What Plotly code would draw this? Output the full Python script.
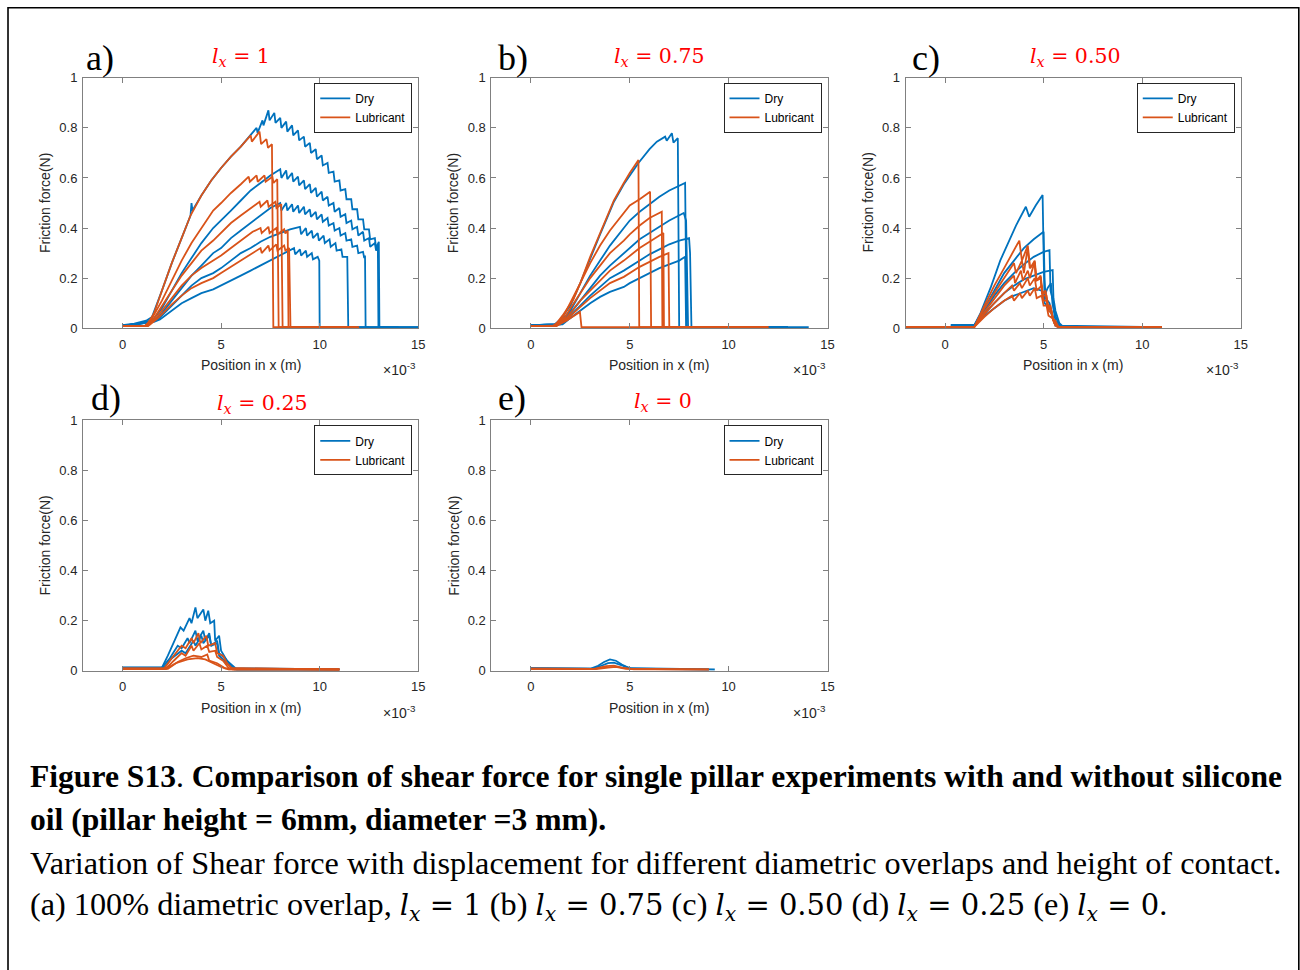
import plotly.graph_objects as go

W, H = 1300, 970
# The photographed page comes out slightly scaled/shifted; target positions
# (in picture pixels) are mapped back to page pixels.
SX, SY, OY = 0.994, 0.983, 7.3
BLUE = "#0072BD"
ORANGE = "#D95319"

# ---------------- data (x in mm i.e. x10^-3 m, friction force in N) ----------------
x_ticks = [0, 5, 10, 15]
x_tick_labels = ["0", "5", "10", "15"]
y_ticks = [0, 0.2, 0.4, 0.6, 0.8, 1]
y_tick_labels = ["0", "0.2", "0.4", "0.6", "0.8", "1"]
panel_letters = ["a)", "b)", "c)", "d)", "e)"]
panel_lx = ["1", "0.75", "0.50", "0.25", "0"]

# ---- panel a : lx = 1 ----
a_dry1 = [(0,0.012),(0.6,0.018),(1.2,0.03),(1.5,0.045),(2.0,0.15),(2.5,0.26),(3.0,0.36),(3.45,0.45),(3.5,0.50),(3.55,0.47),
          (4.0,0.53),(4.5,0.59),(5.0,0.64),(5.5,0.685),(6.0,0.725),(6.5,0.77),(6.8,0.80),(6.85,0.78),(7.1,0.83),(7.15,0.81),
          (7.40,0.87),(7.46,0.83),(7.70,0.86),(7.76,0.82),(8.00,0.84),(8.06,0.80),(8.30,0.825),(8.36,0.785),(8.60,0.81),(8.66,0.77),
          (8.90,0.79),(8.96,0.75),(9.20,0.765),(9.26,0.725),(9.50,0.74),(9.56,0.70),(9.80,0.715),(9.86,0.675),(10.10,0.69),(10.16,0.65),
          (10.40,0.66),(10.46,0.62),(10.70,0.625),(10.76,0.585),(11.00,0.59),(11.06,0.55),(11.30,0.555),(11.36,0.515),(11.60,0.515),(11.66,0.475),
          (11.90,0.475),(11.96,0.435),(12.20,0.435),(12.26,0.395),(12.50,0.395),(12.56,0.355),(12.80,0.36),(12.86,0.32),(13.00,0.345),(13.03,0.004),(15.0,0.004)]
a_dry2 = [(0,0.01),(0.7,0.016),(1.3,0.028),(1.6,0.04),(2.0,0.08),(2.5,0.15),(3.0,0.22),(3.5,0.28),(4.0,0.34),(4.6,0.40),(5.0,0.43),
          (5.5,0.47),(6.0,0.51),(6.5,0.55),(7.0,0.58),(7.5,0.61),
          (8.0,0.635),(8.06,0.60),(8.3,0.63),(8.36,0.595),(8.6,0.62),(8.66,0.585),(8.9,0.605),(8.96,0.57),(9.2,0.59),(9.26,0.555),
          (9.5,0.575),(9.56,0.54),(9.8,0.56),(9.86,0.525),(10.1,0.545),(10.16,0.51),(10.4,0.525),(10.46,0.49),(10.7,0.50),(10.76,0.465),
          (11.0,0.48),(11.06,0.445),(11.3,0.455),(11.36,0.42),(11.6,0.43),(11.66,0.395),(11.9,0.405),(11.96,0.37),(12.2,0.385),(12.26,0.35),
          (12.5,0.36),(12.56,0.325),(12.8,0.34),(12.86,0.31),(12.95,0.33),(12.98,0.004),(15.0,0.004)]
a_dry3 = [(0,0.01),(0.8,0.015),(1.4,0.025),(1.7,0.035),(2.0,0.06),(2.5,0.11),(3.0,0.16),(3.5,0.21),(4.0,0.25),(4.6,0.30),(5.0,0.32),
          (5.5,0.36),(6.0,0.39),(6.5,0.42),(7.0,0.45),(7.5,0.48),
          (8.0,0.50),(8.06,0.47),(8.3,0.50),(8.36,0.47),(8.6,0.495),(8.66,0.465),(8.9,0.49),(8.96,0.46),(9.2,0.485),(9.26,0.455),
          (9.5,0.475),(9.56,0.445),(9.8,0.465),(9.86,0.435),(10.1,0.455),(10.16,0.425),(10.4,0.44),(10.46,0.41),(10.7,0.42),(10.76,0.39),
          (11.0,0.40),(11.06,0.37),(11.3,0.38),(11.36,0.35),(11.6,0.355),(11.66,0.325),(11.9,0.33),(11.96,0.30),(12.2,0.305),(12.26,0.28),
          (12.3,0.29),(12.33,0.004),(14.0,0.004)]
a_dry4 = [(0,0.01),(1.5,0.025),(1.8,0.035),(2.0,0.05),(2.5,0.09),(3.0,0.13),(3.5,0.17),(4.0,0.20),(4.6,0.22),(5.0,0.24),(5.5,0.27),
          (6.0,0.30),(6.5,0.32),(7.0,0.345),(7.5,0.365),(8.0,0.38),(8.5,0.395),
          (9.0,0.405),(9.06,0.375),(9.3,0.40),(9.36,0.37),(9.6,0.39),(9.66,0.36),(9.9,0.38),(9.96,0.35),(10.2,0.37),(10.26,0.34),
          (10.5,0.355),(10.56,0.325),(10.8,0.34),(10.86,0.31),(11.1,0.315),(11.16,0.285),(11.4,0.285),(11.45,0.004),(13.5,0.004)]
a_dry5 = [(0,0.01),(1.6,0.025),(1.9,0.035),(2.5,0.07),(3.0,0.10),(3.5,0.12),(4.0,0.14),(4.6,0.155),(5.0,0.17),(5.5,0.19),(6.0,0.21),
          (6.5,0.23),(7.0,0.25),(7.5,0.27),(8.0,0.29),(8.4,0.305),
          (8.7,0.32),(8.76,0.295),(9.0,0.315),(9.06,0.29),(9.3,0.31),(9.36,0.285),(9.6,0.30),(9.66,0.275),(9.9,0.285),(9.98,0.27),
          (10.0,0.004),(12.5,0.004)]
a_lub1 = [(0,0.008),(1.1,0.008),(1.3,0.02),(1.6,0.06),(2.0,0.15),(2.5,0.26),(3.0,0.36),(3.45,0.45),(4.0,0.53),(4.5,0.59),(5.0,0.64),
          (5.5,0.685),(6.0,0.725),(6.5,0.77),(6.56,0.745),(6.95,0.785),(7.03,0.735),(7.3,0.755),(7.38,0.72),(7.58,0.735),(7.65,0.004),(11.9,0.004)]
a_lub2 = [(0,0.008),(1.15,0.008),(1.5,0.04),(2.0,0.11),(2.5,0.19),(3.0,0.27),(3.5,0.34),(4.0,0.40),(4.6,0.47),(5.0,0.50),(5.5,0.54),
          (6.0,0.575),(6.4,0.605),(6.46,0.585),(6.8,0.61),(6.86,0.585),(7.2,0.61),(7.26,0.585),(7.6,0.605),(7.66,0.58),(7.85,0.595),
          (7.92,0.004),(11.8,0.004)]
a_lub3 = [(0,0.008),(1.2,0.008),(1.6,0.04),(2.0,0.09),(2.5,0.15),(3.0,0.21),(3.5,0.26),(4.0,0.31),(4.6,0.35),(5.0,0.38),(5.5,0.42),
          (6.0,0.45),(6.5,0.48),(6.95,0.505),(7.01,0.485),(7.35,0.51),(7.41,0.485),(7.75,0.505),(7.81,0.48),(8.05,0.495),(8.12,0.004),(11.9,0.004)]
a_lub4 = [(0,0.008),(1.25,0.008),(1.7,0.04),(2.0,0.07),(2.5,0.12),(3.0,0.17),(3.5,0.21),(4.0,0.24),(4.6,0.27),(5.0,0.29),(5.5,0.32),
          (6.0,0.35),(6.6,0.385),(7.0,0.40),(7.06,0.38),(7.4,0.405),(7.46,0.38),(7.8,0.40),(7.86,0.375),(8.2,0.395),(8.26,0.378),
          (8.38,0.39),(8.42,0.004),(11.7,0.004)]
a_lub5 = [(0,0.008),(1.3,0.008),(1.8,0.04),(2.5,0.095),(3.0,0.13),(3.5,0.16),(4.0,0.18),(4.6,0.20),(5.0,0.22),(5.5,0.245),(6.0,0.27),
          (6.5,0.295),(7.0,0.32),(7.06,0.30),(7.4,0.33),(7.46,0.31),(7.8,0.335),(7.86,0.31),(8.2,0.33),(8.26,0.31),(8.45,0.32),
          (8.52,0.004),(12.0,0.004)]

# ---- panel b : lx = 0.75 ----
b_dry1 = [(0,0.012),(1.2,0.015),(1.5,0.035),(2.0,0.09),(2.5,0.18),(3.0,0.28),(3.5,0.375),(3.85,0.44),(4.2,0.505),(4.7,0.575),
          (5.0,0.61),(5.44,0.66),(6.0,0.715),(6.37,0.745),(6.79,0.765),(6.87,0.749),(7.13,0.779),(7.21,0.741),(7.43,0.759),
          (7.5,0.004),(14.05,0.004)]
b_dry2 = [(0,0.012),(1.3,0.015),(1.6,0.035),(2.0,0.07),(2.5,0.14),(3.0,0.21),(3.5,0.27),(4.0,0.33),(4.7,0.40),(5.0,0.43),(5.5,0.465),
          (6.0,0.495),(6.5,0.525),(7.0,0.55),(7.5,0.57),(7.8,0.58),(7.88,0.004),(13.0,0.004)]
b_dry3 = [(0,0.012),(1.4,0.015),(1.7,0.035),(2.0,0.06),(2.5,0.11),(3.0,0.16),(3.5,0.21),(4.0,0.25),(4.7,0.30),(5.0,0.32),(5.5,0.355),
          (6.0,0.38),(6.5,0.405),(7.0,0.43),(7.73,0.46),(7.85,0.43),(7.95,0.004),(13.0,0.004)]
b_dry4 = [(0,0.012),(1.5,0.015),(1.8,0.035),(2.0,0.05),(2.5,0.09),(3.0,0.13),(3.5,0.165),(4.0,0.20),(4.7,0.23),(5.0,0.245),(5.5,0.27),
          (6.0,0.295),(6.5,0.315),(7.0,0.335),(7.5,0.35),(8.0,0.36),(8.05,0.30),(8.12,0.004),(13.0,0.004)]
b_dry5 = [(0,0.012),(1.6,0.015),(1.9,0.035),(2.5,0.07),(3.0,0.10),(3.5,0.125),(4.0,0.145),(4.7,0.165),(5.0,0.18),(5.5,0.20),
          (6.0,0.22),(6.5,0.24),(7.0,0.255),(7.5,0.27),(7.8,0.285),(7.85,0.004),(13.0,0.004)]
b_lub1 = [(0,0.008),(1.1,0.008),(1.3,0.02),(1.6,0.05),(2.15,0.115),(2.5,0.18),(3.0,0.285),(3.5,0.38),(3.85,0.445),(4.2,0.51),
          (4.7,0.58),(5.0,0.62),(5.44,0.672),(5.48,0.004),(12.0,0.004)]
b_lub2 = [(0,0.008),(1.15,0.008),(1.6,0.04),(2.0,0.10),(2.5,0.18),(3.0,0.26),(3.5,0.33),(4.0,0.39),(4.7,0.46),(5.0,0.49),(5.5,0.515),
          (6.03,0.545),(6.08,0.004),(12.0,0.004)]
b_lub3 = [(0,0.008),(1.2,0.008),(1.7,0.04),(2.0,0.08),(2.5,0.14),(3.0,0.20),(3.5,0.25),(4.0,0.30),(4.7,0.35),(5.0,0.375),(5.5,0.41),
          (6.0,0.44),(6.62,0.465),(6.65,0.004),(12.0,0.004)]
b_lub4 = [(0,0.008),(1.25,0.008),(1.8,0.04),(2.0,0.06),(2.5,0.11),(3.0,0.15),(3.5,0.19),(4.0,0.23),(4.7,0.27),(5.0,0.29),(5.5,0.32),
          (6.0,0.345),(6.7,0.38),(6.73,0.004),(12.0,0.004)]
b_lub5 = [(0,0.008),(1.3,0.008),(1.8,0.035),(2.0,0.05),(2.5,0.085),(3.0,0.12),(3.5,0.15),(4.0,0.18),(4.7,0.205),(5.0,0.22),
          (5.5,0.245),(6.0,0.265),(6.5,0.285),(6.96,0.30),(7.0,0.004),(12.0,0.004)]
b_lub6 = [(0,0.008),(1.3,0.01),(1.8,0.03),(2.2,0.05),(2.48,0.065),(2.56,0.004),(12.0,0.004)]

# ---- panel c : lx = 0.50 ----
c_dry1 = [(0.3,0.012),(1.49,0.012),(1.8,0.06),(2.33,0.165),(2.8,0.27),(3.18,0.34),(3.6,0.41),(4.1,0.485),(4.27,0.445),(4.6,0.49),
          (4.95,0.532),(5.0,0.30),(5.05,0.10),(5.3,0.08),(5.6,0.01),(6.0,0.005),(10.0,0.005)]
c_dry2 = [(0.3,0.012),(1.49,0.012),(2.0,0.08),(2.5,0.15),(3.0,0.22),(3.5,0.27),(4.0,0.32),(4.5,0.355),(5.0,0.385),(5.05,0.20),
          (5.1,0.12),(5.3,0.10),(5.55,0.02),(6.0,0.005),(10.0,0.005)]
c_dry3 = [(0.3,0.012),(1.49,0.012),(2.0,0.07),(2.5,0.13),(3.0,0.18),(3.5,0.22),(4.0,0.255),(4.5,0.285),(5.0,0.305),(5.3,0.312),
          (5.35,0.15),(5.45,0.12),(5.6,0.05),(5.8,0.01),(10.0,0.005)]
c_dry4 = [(0.3,0.012),(1.5,0.012),(2.0,0.06),(2.5,0.10),(3.0,0.14),(3.5,0.17),(4.0,0.195),(4.5,0.21),(5.0,0.225),(5.46,0.232),
          (5.5,0.12),(5.6,0.07),(5.8,0.02),(6.0,0.005),(10.0,0.005)]
c_dry5 = [(0.3,0.012),(1.5,0.012),(2.0,0.05),(2.5,0.08),(3.0,0.11),(3.5,0.13),(4.0,0.145),(4.5,0.16),(4.9,0.15),(5.0,0.12),
          (5.2,0.16),(5.37,0.18),(5.45,0.10),(5.6,0.03),(5.9,0.005),(10.0,0.005)]
c_lub1 = [(-2,0.005),(1.49,0.005),(2.0,0.09),(2.5,0.17),(3.0,0.24),(3.4,0.30),(3.77,0.35),(3.9,0.27),(4.2,0.33),(4.32,0.24),
          (4.55,0.27),(4.65,0.19),(4.85,0.21),(4.95,0.14),(5.1,0.15),(5.2,0.09),(5.35,0.09),(5.45,0.04),(5.6,0.03),(5.75,0.005),(11.0,0.005)]
c_lub2 = [(-2,0.005),(1.49,0.005),(2.0,0.08),(2.5,0.14),(3.0,0.20),(3.5,0.26),(3.6,0.22),(3.9,0.27),(4.0,0.22),(4.19,0.32),
          (4.3,0.24),(4.55,0.26),(4.62,0.19),(4.85,0.20),(4.95,0.13),(5.15,0.13),(5.25,0.08),(5.4,0.07),(5.5,0.03),(5.7,0.005),(11.0,0.005)]
c_lub3 = [(-2,0.005),(1.49,0.005),(2.0,0.065),(2.5,0.12),(3.0,0.17),(3.5,0.21),(3.55,0.18),(3.85,0.23),(3.95,0.19),(4.2,0.23),
          (4.3,0.20),(4.55,0.265),(4.62,0.19),(4.85,0.20),(4.92,0.14),(5.1,0.14),(5.2,0.09),(5.35,0.08),(5.5,0.03),(5.7,0.005),(11.0,0.005)]
c_lub4 = [(-2,0.005),(1.49,0.005),(2.0,0.055),(2.5,0.10),(3.0,0.14),(3.4,0.17),(3.5,0.15),(3.8,0.18),(3.9,0.16),(4.2,0.20),
          (4.3,0.17),(4.55,0.20),(4.65,0.15),(4.9,0.17),(5.0,0.11),(5.15,0.11),(5.25,0.07),(5.4,0.06),(5.55,0.02),(5.75,0.005),(11.0,0.005)]
c_lub5 = [(-2,0.005),(1.49,0.005),(2.0,0.045),(2.5,0.08),(3.0,0.11),(3.4,0.13),(3.5,0.11),(3.8,0.14),(3.9,0.12),(4.2,0.15),
          (4.3,0.13),(4.55,0.16),(4.65,0.12),(4.9,0.13),(5.0,0.09),(5.15,0.09),(5.25,0.05),(5.45,0.04),(5.6,0.01),(5.8,0.005),(11.0,0.005)]

# ---- panel d : lx = 0.25 ----
d_dry1 = [(0,0.012),(2.0,0.012),(2.3,0.06),(2.7,0.13),(2.94,0.173),(3.1,0.16),(3.4,0.21),(3.5,0.19),(3.7,0.253),(3.8,0.21),
          (4.1,0.245),(4.2,0.20),(4.35,0.24),(4.45,0.19),(4.65,0.20),(4.7,0.12),(4.9,0.14),(5.0,0.08),(5.3,0.04),(5.8,0.005),(11.0,0.005)]
d_dry2 = [(0,0.012),(2.0,0.012),(2.4,0.05),(2.8,0.10),(3.0,0.09),(3.3,0.13),(3.4,0.11),(3.7,0.16),(3.8,0.12),(4.1,0.16),
          (4.2,0.12),(4.4,0.15),(4.5,0.10),(4.8,0.12),(4.9,0.07),(5.2,0.05),(5.6,0.01),(11.0,0.005)]
d_dry3 = [(0,0.012),(2.1,0.012),(2.5,0.05),(3.0,0.08),(3.2,0.07),(3.6,0.12),(3.7,0.10),(4.0,0.14),(4.1,0.11),(4.4,0.14),
          (4.5,0.10),(4.8,0.11),(4.9,0.06),(5.3,0.03),(5.7,0.005),(11.0,0.005)]
d_lub1 = [(0,0.008),(2.1,0.008),(2.5,0.05),(3.0,0.10),(3.2,0.09),(3.5,0.13),(3.6,0.11),(3.85,0.15),(3.95,0.11),(4.25,0.14),
          (4.35,0.10),(4.7,0.11),(4.8,0.07),(5.1,0.06),(5.3,0.03),(5.6,0.005),(11.0,0.005)]
d_lub2 = [(0,0.008),(2.2,0.008),(2.6,0.04),(3.0,0.07),(3.2,0.06),(3.5,0.10),(3.6,0.08),(3.9,0.11),(4.0,0.085),(4.3,0.10),
          (4.4,0.075),(4.7,0.08),(4.8,0.055),(5.1,0.04),(5.4,0.01),(11.0,0.005)]
d_lub3 = [(0,0.008),(2.3,0.008),(2.8,0.035),(3.2,0.05),(3.6,0.06),(4.0,0.055),(4.3,0.065),(4.4,0.04),(4.8,0.03),(5.2,0.01),(11.0,0.005)]
d_lub4 = [(0,0.008),(2.2,0.008),(2.7,0.03),(3.3,0.045),(3.8,0.05),(4.2,0.045),(4.6,0.03),(5.0,0.015),(5.4,0.005),(11.0,0.005)]

# ---- panel e : lx = 0 ----
e_dry1 = [(0,0.01),(3.0,0.008),(3.4,0.02),(3.7,0.035),(4.0,0.045),(4.3,0.04),(4.6,0.025),(5.0,0.01),(9.3,0.005)]
e_dry2 = [(0,0.01),(3.1,0.008),(3.5,0.018),(3.9,0.03),(4.2,0.032),(4.6,0.02),(5.1,0.008),(9.0,0.005)]
e_lub1 = [(0,0.008),(3.2,0.007),(3.8,0.018),(4.2,0.02),(4.6,0.012),(5.2,0.006),(9.0,0.005)]
e_lub2 = [(0,0.008),(3.3,0.007),(3.9,0.013),(4.3,0.015),(4.8,0.008),(9.0,0.005)]

panel_dry = [[a_dry1, a_dry2, a_dry3, a_dry4, a_dry5],
             [b_dry1, b_dry2, b_dry3, b_dry4, b_dry5],
             [c_dry1, c_dry2, c_dry3, c_dry4, c_dry5],
             [d_dry1, d_dry2, d_dry3],
             [e_dry1, e_dry2]]
panel_lub = [[a_lub1, a_lub2, a_lub3, a_lub4, a_lub5],
             [b_lub1, b_lub2, b_lub3, b_lub4, b_lub5, b_lub6],
             [c_lub1, c_lub2, c_lub3, c_lub4, c_lub5],
             [d_lub1, d_lub2, d_lub3, d_lub4],
             [e_lub1, e_lub2]]

# ---------------- layout geometry (target picture pixels) ----------------
panel_box = [(83, 418, 78, 328), (491, 827, 78, 328), (905, 1240, 78, 328),
             (83, 418, 420, 670), (491, 827, 420, 670)]
letter_pos = [(100, 58), (513, 58), (925, 58), (106, 398), (512, 398)]
lx_pos = [(241, 57), (659, 57), (1075, 57), (262, 404), (663, 402)]


def fx(px):
    return (px / SX) / W


def fy(py):
    return 1 - ((py - OY) / SY) / H


fig = go.Figure()
annotations = []
layout = dict(width=W, height=H, margin=dict(l=0, r=0, t=0, b=0), autosize=False,
              paper_bgcolor="white", plot_bgcolor="white", showlegend=True)

SANS = "Liberation Sans, Arial, sans-serif"
SERIF = "Liberation Serif, Times New Roman, serif"
TICKFONT = dict(family=SANS, size=13, color="#262626")
AXCOL = "#808080"


def math_lx(val, size=None):
    sz = "" if size is None else ";font-size:%spx" % size
    return ('<span style="font-family:DejaVu Serif%s"><i>l</i><sub><i>x</i></sub> = %s</span>' % (sz, val))


for i in range(5):
    n = i + 1
    sfx = "" if n == 1 else str(n)
    x0, x1, y0, y1 = panel_box[i]
    leg = "legend" + sfx
    for k, curve in enumerate(panel_dry[i]):
        fig.add_trace(go.Scatter(x=[p[0] for p in curve], y=[p[1] for p in curve], mode="lines",
                                 line=dict(color=BLUE, width=1.8), name="Dry", showlegend=(k == 0),
                                 xaxis="x" + sfx, yaxis="y" + sfx, legend=leg, hoverinfo="skip"))
    for k, curve in enumerate(panel_lub[i]):
        fig.add_trace(go.Scatter(x=[p[0] for p in curve], y=[p[1] for p in curve], mode="lines",
                                 line=dict(color=ORANGE, width=1.8), name="Lubricant", showlegend=(k == 0),
                                 xaxis="x" + sfx, yaxis="y" + sfx, legend=leg, hoverinfo="skip"))
    axcommon = dict(ticks="inside", ticklen=5, tickcolor=AXCOL, tickwidth=1, showline=True,
                    linecolor=AXCOL, linewidth=1, mirror="ticks", showgrid=False, zeroline=False,
                    tickfont=TICKFONT, fixedrange=True)
    layout["xaxis" + sfx] = dict(domain=[fx(x0), fx(x1)], range=[-2, 15], tickvals=x_ticks, ticktext=x_tick_labels,
                                 anchor="y" + sfx, ticklabelstandoff=4, **axcommon)
    layout["yaxis" + sfx] = dict(domain=[fy(y1), fy(y0)], range=[0, 1], tickvals=y_ticks, ticktext=y_tick_labels,
                                 anchor="x" + sfx, ticklabelstandoff=2, **axcommon)
    layout[leg] = dict(x=fx(x1 - 6), y=fy(y0 + 5), xanchor="right", yanchor="top", bgcolor="white",
                       bordercolor="#262626", borderwidth=1, itemwidth=30, tracegroupgap=0,
                       font=dict(family=SANS, size=12, color="black"))
    # axis titles
    annotations.append(dict(x=fx(x0 - 38), y=fy((y0 + y1) / 2), text="Friction force(N)", textangle=-90,
                            showarrow=False, xref="paper", yref="paper", xanchor="center", yanchor="middle",
                            font=dict(family=SANS, size=14, color="#262626")))
    annotations.append(dict(x=fx((x0 + x1) / 2), y=fy(y1 + 37), text="Position in x (m)", showarrow=False,
                            xref="paper", yref="paper", xanchor="center", yanchor="middle",
                            font=dict(family=SANS, size=14, color="#262626")))
    annotations.append(dict(x=fx(x1), y=fy(y1 + 41), text="×10<sup>-3</sup>", showarrow=False,
                            xanchor="right", yanchor="middle", xref="paper", yref="paper",
                            font=dict(family=SANS, size=14, color="#262626")))
    # panel letter and lx title
    lpx, lpy = letter_pos[i]
    annotations.append(dict(x=fx(lpx), y=fy(lpy), text=panel_letters[i], showarrow=False, xref="paper", yref="paper",
                            xanchor="center", yanchor="middle", font=dict(family=SERIF, size=36, color="black")))
    tpx, tpy = lx_pos[i]
    annotations.append(dict(x=fx(tpx), y=fy(tpy), text=math_lx(panel_lx[i]),
                            showarrow=False, xref="paper", yref="paper", xanchor="center", yanchor="middle",
                            font=dict(family="DejaVu Serif", size=20.5, color="#FF0000")))

# caption
cap_lines = [
    ("<b>Figure S13</b>. <b>Comparison of shear force for single pillar experiments with and without silicone</b>",
     776, 31.6),
    ("<b>oil (pillar height = 6mm, diameter =3 mm).</b>", 819, 31.6),
    ("Variation of Shear force with displacement for different diametric overlaps and height of contact.", 862, 32.26),
    ("(a) 100% diametric overlap, " + math_lx("1", 29) + " (b) " + math_lx("0.75", 29) + " (c) " + math_lx("0.50", 29)
     + " (d) " + math_lx("0.25", 29) + " (e) " + math_lx("0", 29) + ".", 905, 32.26),
]
for txt, ypx, fsz in cap_lines:
    annotations.append(dict(x=fx(28), y=fy(ypx), text=txt, showarrow=False, xanchor="left", yanchor="middle",
                            xref="paper", yref="paper", font=dict(family=SERIF, size=fsz, color="black")))

layout["annotations"] = annotations
layout["shapes"] = [dict(type="rect", xref="paper", yref="paper", x0=fx(8), x1=fx(1298), y0=-0.05, y1=1 - 0.8 / H,
                         line=dict(color="black", width=1.6), fillcolor="rgba(0,0,0,0)")]
fig.update_layout(**layout)

fig.write_html("out.html", config={"displayModeBar": False},
               post_script="document.body.style.margin='0';document.documentElement.style.margin='0';")
